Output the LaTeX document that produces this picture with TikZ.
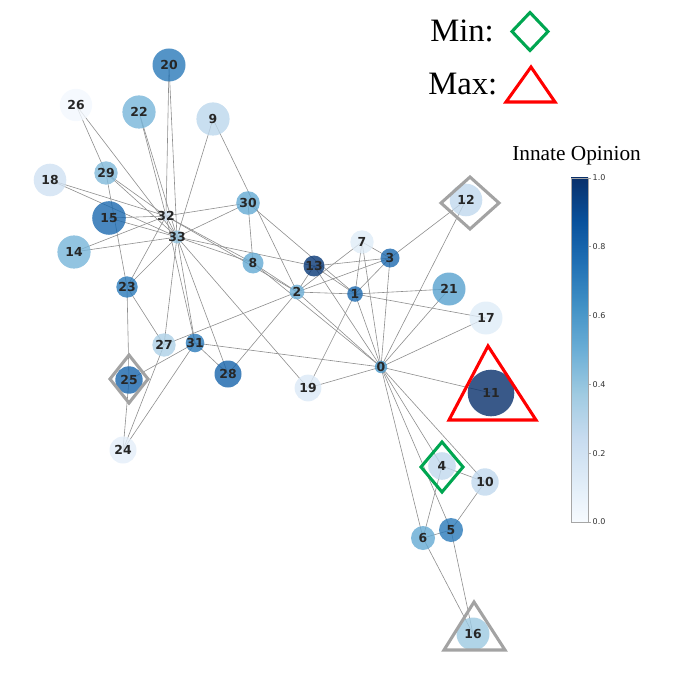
\documentclass[tikz,border=0pt]{standalone}
\usepackage{fontspec}
\setmainfont{Liberation Serif}
\newfontfamily\labelfont{DejaVu Sans}
\usetikzlibrary{backgrounds}

% Blues colour map
\definecolor{bl0}{HTML}{F7FBFF}
\definecolor{bl1}{HTML}{DEEBF7}
\definecolor{bl2}{HTML}{C6DBEF}
\definecolor{bl3}{HTML}{9ECAE1}
\definecolor{bl4}{HTML}{6BAED6}
\definecolor{bl5}{HTML}{4292C6}
\definecolor{bl6}{HTML}{2171B5}
\definecolor{bl7}{HTML}{08519C}
\definecolor{bl8}{HTML}{08306B}
\definecolor{edgegray}{HTML}{8E8E8E}
\definecolor{markgray}{HTML}{A3A3A3}
\definecolor{mingreen}{HTML}{00A651}
\definecolor{maxred}{HTML}{FF0000}

\tikzset{
  vert/.style={circle, inner sep=0pt, draw=none, fill opacity=0.8},
  every label/.style={font=\labelfont\bfseries\fontsize{9.3}{9.3}\selectfont,
    text=black!85, text opacity=1, fill opacity=1, inner sep=0pt},
  edge/.style={draw=edgegray, line width=0.45pt},
  markbox/.style={line width=2.3pt, line join=miter},
  legendtext/.style={anchor=base west, inner sep=0pt}
}

\begin{document}
\begin{tikzpicture}[x=0.75pt, y=-0.75pt]
  \useasboundingbox (0,0) rectangle (693,698);

  % members: name/x/y/radius/opinion
  \foreach \i/\x/\y/\r/\v in {
      0/381/367/6.2/0.6, 1/355/294/7.8/0.78, 2/297/292/7.4/0.5, 3/390/258/9.5/0.78,
      4/442/466/13.8/0.27, 5/451/530/12/0.72, 6/423/538/12/0.52, 7/362/242/11.7/0.12,
      8/253/263/10.5/0.52, 9/213/119/16.6/0.28, 10/485/482/13.7/0.27, 11/491/393/23.3/1.0,
      12/466/200/16.3/0.27, 13/314/266/10.5/0.97, 14/74/252/16.6/0.47, 15/109/218/16.8/0.78,
      16/473/634/16.5/0.38, 17/486/318/16.5/0.12, 18/50/180/16.3/0.2, 19/308/388/13.4/0.14,
      20/169/65/16.5/0.72, 21/449/289/16.5/0.56, 22/139/112/16.6/0.47, 23/127/287/10.7/0.72,
      24/123/450/13.5/0.1, 25/129/380/13.7/0.8, 26/76/105/16.2/0.02, 27/164/345/11.7/0.33,
      28/228/374/13.5/0.8, 29/106/173/11.7/0.45, 30/248/203/11.8/0.52, 31/195/343/9.3/0.72,
      32/166/216/5/0.2, 33/177/237/6.5/0.4}{
    \pgfmathtruncatemacro\k{min(floor(\v*8),7)}
    \pgfmathtruncatemacro\t{round((\v*8-\k)*100)}
    \pgfmathtruncatemacro\kk{\k+1}
    \pgfmathsetmacro\d{1.5*\r}
    \colorlet{opfill}{bl\kk!\t!bl\k}
    \node[vert, fill=opfill, minimum size=\d pt, label={center:\i}] (n\i) at (\x,\y) {};
  }

  % friendships
  \begin{scope}[on background layer]
    \foreach \a/\b in {0/1,0/2,0/3,0/4,0/5,0/6,0/7,0/8,0/10,0/11,0/12,0/13,0/17,0/19,0/21,0/31,
        1/2,1/3,1/7,1/13,1/17,1/19,1/21,1/30,
        2/3,2/7,2/8,2/9,2/13,2/27,2/28,2/32,
        3/7,3/12,3/13,4/6,4/10,5/6,5/10,5/16,6/16,
        8/30,8/32,8/33,9/33,13/33,14/32,14/33,15/32,15/33,18/32,18/33,19/33,
        20/32,20/33,22/32,22/33,23/25,23/27,23/29,23/32,23/33,
        24/25,24/27,24/31,25/31,26/29,26/33,27/33,28/31,28/33,
        29/32,29/33,30/32,30/33,31/32,31/33,32/33}
      \draw[edge] (n\a.center) -- (n\b.center);
  \end{scope}

  % markers
  \draw[markbox, markgray] (441,203) -- (470,177) -- (499,203) -- (470,229) -- cycle;
  \draw[markbox, markgray] (110,379) -- (129,355) -- (148,379) -- (129,403) -- cycle;
  \draw[markbox, mingreen] (421,467) -- (442,442) -- (463,467) -- (442,492) -- cycle;
  \draw[markbox, maxred] (488,346) -- (536,420) -- (449,420) -- cycle;
  \draw[markbox, markgray] (474,602) -- (505,650) -- (444,650) -- cycle;

  % legend
  \node[legendtext, font=\fontsize{24.5}{24.5}\selectfont] (minlab) at (430,42) {Min:};
  \draw[markbox, mingreen] (512,31.5) -- (530,12.5) -- (548,31.5) -- (530,50.5) -- cycle;
  \node[legendtext, font=\fontsize{24.5}{24.5}\selectfont] (maxlab) at (428,95) {Max:};
  \draw[markbox, maxred] (531,67) -- (555,102) -- (506,102) -- cycle;

  % colour bar
  \node[legendtext, font=\fontsize{16}{16}\selectfont] (bartitle) at (512,161) {Innate Opinion};
  \foreach \k in {0,...,7}{
    \pgfmathtruncatemacro\kk{\k+1}
    \shade[bottom color=bl\k, top color=bl\kk]
      (571,{522-43*\k+0.3}) rectangle (588,{522-43*\kk-0.3});
  }
  \draw[gray!70, line width=0.5pt] (571,178) rectangle (588,522);
  \foreach \y/\lab in {522/0.0, 453.2/0.2, 384.4/0.4, 315.6/0.6, 246.8/0.8, 178/1.0}
    \draw[gray!70, line width=0.5pt] (588,\y) -- (591,\y)
      node[right, inner sep=1pt, text=black!80, font=\labelfont\fontsize{6}{6}\selectfont] {\lab};
\end{tikzpicture}
\end{document}
